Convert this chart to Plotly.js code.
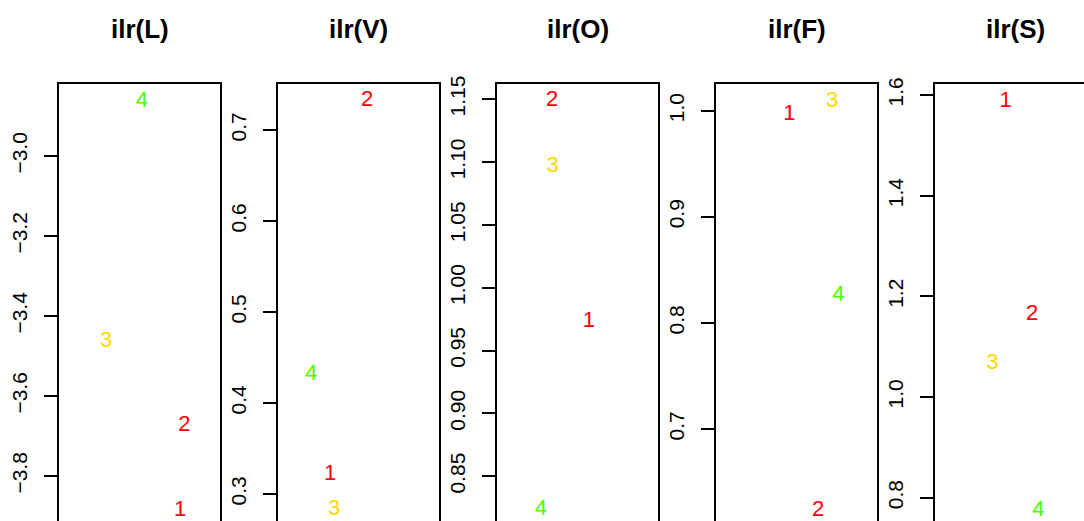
<!DOCTYPE html>
<html>
<head>
<meta charset="utf-8">
<script src="https://cdn.plot.ly/plotly-3.0.1.min.js"></script>
<style>
html, body { margin: 0; padding: 0; overflow: hidden; background: #fff; }
#chart { width: 1120px; height: 560px; }
</style>
</head>
<body>
<div id="chart"></div>
<script>
// Labels of the four groups and their colours
const labels = ["1", "2", "3", "4"];
const labelColors = ["#FF0000", "#FF0000", "#FFD700", "#4CFF00"];

// Panel titles
const panelTitles = ["ilr(L)", "ilr(V)", "ilr(O)", "ilr(F)", "ilr(S)"];

// Values (y) for groups 1..4 in each panel
const ilrL = [-3.885, -3.674, -3.4625, -2.864];
const ilrV = [0.3216, 0.7319, 0.2824, 0.4308];
const ilrO = [0.9733, 1.1487, 1.0965, 0.8233];
const ilrF = [0.9969, 0.6237, 1.0091, 0.8263];
const ilrS = [1.588, 1.164, 1.0676, 0.7755];

// Horizontal positions (jitter) of the labels in each panel
const jitL = [0.752, 0.778, 0.292, 0.514];
const jitV = [0.323, 0.553, 0.348, 0.205];
const jitO = [0.570, 0.342, 0.346, 0.273];
const jitF = [0.455, 0.635, 0.722, 0.760];
const jitS = [0.439, 0.604, 0.356, 0.642];

// Axis tick values
const ticksL = [-3.8, -3.6, -3.4, -3.2, -3.0];
const ticksV = [0.3, 0.4, 0.5, 0.6, 0.7];
const ticksO = [0.85, 0.90, 0.95, 1.00, 1.05, 1.10, 1.15];
const ticksF = [0.7, 0.8, 0.9, 1.0];
const ticksS = [0.8, 1.0, 1.2, 1.4, 1.6];

const W = 1120, H = 560;
const panels = [
  {y: ilrL, x: jitL, ticks: ticksL, fmt: ".1f", range: [-3.9625, -2.82]},
  {y: ilrV, x: jitV, ticks: ticksV, fmt: ".1f", range: [0.2483, 0.7505]},
  {y: ilrO, x: jitO, ticks: ticksO, fmt: ".2f", range: [0.7985, 1.1621]},
  {y: ilrF, x: jitF, ticks: ticksF, fmt: ".1f", range: [0.5945, 1.0252]},
  {y: ilrS, x: jitS, ticks: ticksS, fmt: ".1f", range: [0.7141, 1.6219]}
];

const FONT = "Liberation Sans, Arial, Helvetica, sans-serif";
const left0 = 59, step = 219, boxW = 161;
const boxTop = 84, boxBottom = 541;

const data = [];
const layout = {
  width: W, height: H,
  margin: {l: 0, r: 0, t: 0, b: 0, pad: 0},
  paper_bgcolor: "#fff", plot_bgcolor: "#fff",
  showlegend: false,
  font: {family: FONT, color: "#000"},
  annotations: []
};

panels.forEach((p, i) => {
  const n = i === 0 ? "" : String(i + 1);
  const xa = "x" + n, ya = "y" + n;
  data.push({
    type: "scatter", mode: "text",
    x: p.x, y: p.y, text: labels,
    textposition: "middle center",
    textfont: {family: FONT, size: 22, color: labelColors},
    xaxis: xa, yaxis: ya, hoverinfo: "skip", cliponaxis: true
  });
  const x0 = (left0 + i * step) / W, x1 = (left0 + i * step + boxW) / W;
  layout["xaxis" + n] = {
    domain: [x0, x1], range: [0, 1], anchor: ya,
    showline: true, mirror: true, linecolor: "#000", linewidth: 2,
    showticklabels: false, ticks: "", showgrid: false, zeroline: false, fixedrange: true
  };
  layout["yaxis" + n] = {
    domain: [1 - boxBottom / H, 1 - boxTop / H], range: p.range, anchor: xa,
    showline: true, mirror: true, linecolor: "#000", linewidth: 2,
    tickmode: "array", tickvals: p.ticks, tickformat: p.fmt,
    ticks: "outside", ticklen: 13, tickwidth: 2, tickcolor: "#000",
    tickangle: -90, tickfont: {family: FONT, size: 21, color: "#000"},
    ticklabelstandoff: 9,
    showgrid: false, zeroline: false, fixedrange: true
  };
  layout.annotations.push({
    text: "<b>" + panelTitles[i] + "</b>",
    xref: "paper", yref: "paper",
    x: (x0 + x1) / 2, y: 1 - 29 / H,
    xanchor: "center", yanchor: "middle", showarrow: false,
    font: {family: FONT, size: 26, color: "#000"}
  });
});

Plotly.newPlot("chart", data, layout, {staticPlot: true, displayModeBar: false});
</script>
</body>
</html>
